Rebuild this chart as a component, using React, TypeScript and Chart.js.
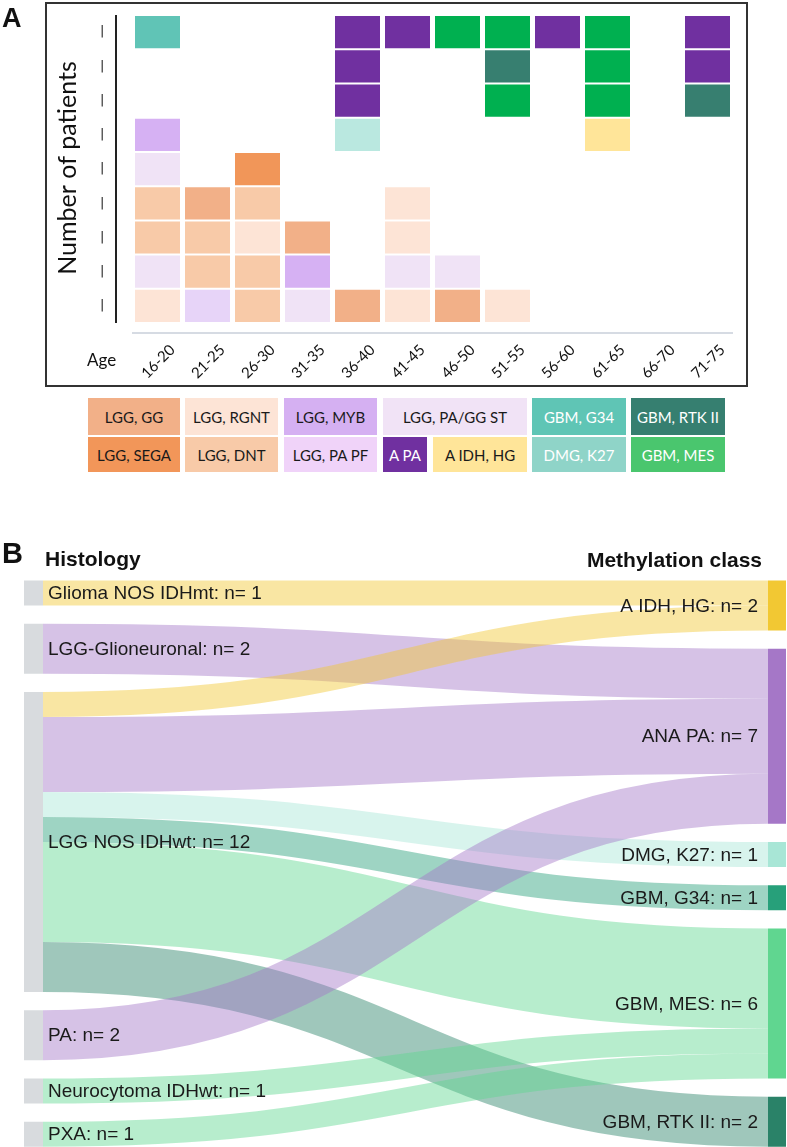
import React, { useEffect, useRef } from 'react';
import { Chart, registerables } from 'chart.js';

Chart.register(...registerables);

// ---------------- Panel A data ----------------
const ageGroups = ['16-20', '21-25', '26-30', '31-35', '36-40', '41-45', '46-50', '51-55', '56-60', '61-65', '66-70', '71-75'];
const rowLevels = 9;

// Each age column lists its cells from bottom to top (null = empty slot)
const age16_20 = ['LGG, RGNT', 'LGG, PA/GG ST', 'LGG, DNT', 'LGG, DNT', 'LGG, PA/GG ST', 'LGG, MYB', null, null, 'GBM, G34'];
const age21_25 = ['LGG, PA PF', 'LGG, DNT', 'LGG, DNT', 'LGG, GG'];
const age26_30 = ['LGG, DNT', 'LGG, DNT', 'LGG, RGNT', 'LGG, DNT', 'LGG, SEGA'];
const age31_35 = ['LGG, PA/GG ST', 'LGG, MYB', 'LGG, GG'];
const age36_40 = ['LGG, GG', null, null, null, null, 'DMG, K27', 'A PA', 'A PA', 'A PA'];
const age41_45 = ['LGG, RGNT', 'LGG, PA/GG ST', 'LGG, RGNT', 'LGG, RGNT', null, null, null, null, 'A PA'];
const age46_50 = ['LGG, GG', 'LGG, PA/GG ST', null, null, null, null, null, null, 'GBM, MES'];
const age51_55 = ['LGG, RGNT', null, null, null, null, null, 'GBM, MES', 'GBM, RTK II', 'GBM, MES'];
const age56_60 = [null, null, null, null, null, null, null, null, 'A PA'];
const age61_65 = [null, null, null, null, null, 'A IDH, HG', 'GBM, MES', 'GBM, MES', 'GBM, MES'];
const age66_70: (string | null)[] = [];
const age71_75 = [null, null, null, null, null, null, 'GBM, RTK II', 'A PA', 'A PA'];
const ageStacks: (string | null)[][] = [age16_20, age21_25, age26_30, age31_35, age36_40, age41_45, age46_50, age51_55, age56_60, age61_65, age66_70, age71_75];

const cellColors: Record<string, string> = {
  'LGG, GG': '#f2b088',
  'LGG, SEGA': '#f19659',
  'LGG, RGNT': '#fde4d6',
  'LGG, DNT': '#f8caa8',
  'LGG, MYB': '#d6b1f3',
  'LGG, PA PF': '#e7d4f8',
  'LGG, PA/GG ST': '#f0e3f6',
  'A PA': '#7030a0',
  'A IDH, HG': '#ffe599',
  'GBM, G34': '#60c4b6',
  'DMG, K27': '#bae8e0',
  'GBM, RTK II': '#377f70',
  'GBM, MES': '#00b050',
};

const legendRow1 = ['LGG, GG', 'LGG, RGNT', 'LGG, MYB', 'LGG, PA/GG ST', 'GBM, G34', 'GBM, RTK II'];
const legendRow2 = ['LGG, SEGA', 'LGG, DNT', 'LGG, PA PF', 'A PA', 'A IDH, HG', 'DMG, K27', 'GBM, MES'];
const legendColors: Record<string, string> = {
  'LGG, GG': '#f2b088', 'LGG, RGNT': '#fde4d6', 'LGG, MYB': '#d5b0f2', 'LGG, PA/GG ST': '#f1e3f6',
  'GBM, G34': '#5fc5b5', 'GBM, RTK II': '#367f70', 'LGG, SEGA': '#f29659', 'LGG, DNT': '#f8caa8',
  'LGG, PA PF': '#f0d3f9', 'A PA': '#7030a0', 'A IDH, HG': '#ffe599', 'DMG, K27': '#8fd4c8', 'GBM, MES': '#4ac66e',
};
const legendWhiteText = ['GBM, G34', 'GBM, RTK II', 'A PA', 'DMG, K27', 'GBM, MES'];

// layout of legend boxes (x, width) per row
const legendLayout1 = [[88, 92], [185, 93], [284, 93], [383, 144], [532, 94], [631, 94]];
const legendLayout2 = [[88, 92], [185, 93], [284, 93], [383, 44], [433, 94], [532, 94], [631, 94]];

// ---------------- Panel B data ----------------
const histologyNodes = ['Glioma NOS IDHmt', 'LGG-Glioneuronal', 'LGG NOS IDHwt', 'PA', 'Neurocytoma IDHwt', 'PXA'];
const methylationNodes = ['A IDH, HG', 'ANA PA', 'DMG, K27', 'GBM, G34', 'GBM, MES', 'GBM, RTK II'];
const methylationColors = ['#f2c833', '#a577c7', '#a8e6d6', '#27a07a', '#60d690', '#2a8268'];
const flowFrom = [0, 1, 2, 2, 2, 2, 2, 2, 3, 4, 5];
const flowTo = [0, 1, 0, 1, 2, 3, 4, 5, 1, 4, 4];
const flowCount = [1, 2, 1, 3, 1, 1, 4, 2, 2, 1, 1];
const nodeGapUnits = 0.73;

function hexToRgba(hex: string, a: number) {
  const n = parseInt(hex.slice(1), 16);
  return `rgba(${(n >> 16) & 255},${(n >> 8) & 255},${n & 255},${a})`;
}

const panelAPlugin = {
  id: 'panelADecor',
  afterDraw(chart: any) {
    const { ctx, chartArea, scales } = chart;
    const y = scales.y;
    ctx.save();
    ctx.strokeStyle = '#333';
    ctx.lineWidth = 2;
    ctx.strokeRect(46, 3, 701, 383);
    ctx.fillStyle = '#111';
    ctx.font = 'bold 27px "Liberation Sans", Arial, sans-serif';
    ctx.textBaseline = 'alphabetic';
    ctx.textAlign = 'left';
    ctx.fillText('A', 2, 27);
    const ax = chartArea.left - 16.5;
    ctx.strokeStyle = '#222';
    ctx.lineWidth = 2;
    ctx.beginPath();
    ctx.moveTo(ax, y.getPixelForValue(rowLevels));
    ctx.lineTo(ax, y.getPixelForValue(0));
    ctx.stroke();
    ctx.save();
    ctx.translate(68, (y.getPixelForValue(rowLevels) + y.getPixelForValue(0)) / 2 - 1);
    ctx.rotate(-Math.PI / 2);
    ctx.font = '25px Lato, "Open Sans", sans-serif';
    ctx.fillStyle = '#111';
    ctx.textAlign = 'center';
    ctx.textBaseline = 'middle';
    ctx.fillText('Number of patients', 0, 0);
    ctx.restore();
    ctx.font = '17px Lato, "Open Sans", sans-serif';
    ctx.fillStyle = '#111';
    ctx.textAlign = 'left';
    ctx.textBaseline = 'middle';
    ctx.fillText('Age', 87, 361);
    ctx.restore();
  },
};

const sankeyPlugin = {
  id: 'sankeyDraw',
  afterDatasetsDraw(chart: any) {
    const { ctx, scales } = chart;
    const xs = scales.x;
    const ys = scales.y;
    const srcTotals = histologyNodes.map((_, i) => flowCount.reduce((s, v, k) => s + (flowFrom[k] === i ? v : 0), 0));
    const tgtTotals = methylationNodes.map((_, i) => flowCount.reduce((s, v, k) => s + (flowTo[k] === i ? v : 0), 0));
    const srcTop: number[] = [];
    const tgtTop: number[] = [];
    let acc = 0;
    srcTotals.forEach((v) => { srcTop.push(acc); acc += v + nodeGapUnits; });
    acc = 0;
    tgtTotals.forEach((v) => { tgtTop.push(acc); acc += v + nodeGapUnits; });

    const leftX0 = xs.getPixelForValue(0);
    const leftX1 = leftX0 + 19;
    const rightX1 = xs.getPixelForValue(1);
    const rightX0 = rightX1 - 18;

    const idx = flowCount.map((_, k) => k);
    const srcOff: number[] = new Array(flowCount.length);
    const tgtOff: number[] = new Array(flowCount.length);
    histologyNodes.forEach((_, i) => {
      let o = srcTop[i];
      idx.filter((k) => flowFrom[k] === i).sort((a, b) => flowTo[a] - flowTo[b]).forEach((k) => { srcOff[k] = o; o += flowCount[k]; });
    });
    methylationNodes.forEach((_, i) => {
      let o = tgtTop[i];
      idx.filter((k) => flowTo[k] === i).sort((a, b) => flowFrom[a] - flowFrom[b]).forEach((k) => { tgtOff[k] = o; o += flowCount[k]; });
    });

    ctx.save();
    const xm = (leftX1 + rightX0) / 2;
    idx.forEach((k) => {
      const sy = ys.getPixelForValue(srcOff[k] + flowCount[k] / 2);
      const ty = ys.getPixelForValue(tgtOff[k] + flowCount[k] / 2);
      const w = Math.abs(ys.getPixelForValue(flowCount[k]) - ys.getPixelForValue(0));
      ctx.beginPath();
      ctx.moveTo(leftX1, sy);
      ctx.bezierCurveTo(xm, sy, xm, ty, rightX0, ty);
      ctx.lineWidth = w;
      ctx.lineCap = 'butt';
      ctx.strokeStyle = hexToRgba(methylationColors[flowTo[k]], 0.45);
      ctx.stroke();
    });

    histologyNodes.forEach((_, i) => {
      const t = ys.getPixelForValue(srcTop[i]);
      const b = ys.getPixelForValue(srcTop[i] + srcTotals[i]);
      ctx.fillStyle = '#d8dbde';
      ctx.fillRect(leftX0, t, leftX1 - leftX0, b - t);
    });
    methylationNodes.forEach((_, i) => {
      const t = ys.getPixelForValue(tgtTop[i]);
      const b = ys.getPixelForValue(tgtTop[i] + tgtTotals[i]);
      ctx.fillStyle = methylationColors[i];
      ctx.fillRect(rightX0, t, rightX1 - rightX0, b - t);
    });

    ctx.font = '19px "Liberation Sans", Arial, sans-serif';
    ctx.fillStyle = '#1a1a1a';
    ctx.textBaseline = 'middle';
    ctx.textAlign = 'left';
    histologyNodes.forEach((n, i) => {
      const c = ys.getPixelForValue(srcTop[i] + srcTotals[i] / 2);
      ctx.fillText(`${n}: n= ${srcTotals[i]}`, leftX1 + 5, c + 1);
    });
    ctx.textAlign = 'right';
    methylationNodes.forEach((n, i) => {
      const c = ys.getPixelForValue(tgtTop[i] + tgtTotals[i] / 2);
      ctx.fillText(`${n}: n= ${tgtTotals[i]}`, rightX0 - 10, c + 1);
    });

    ctx.fillStyle = '#111';
    ctx.textBaseline = 'alphabetic';
    ctx.textAlign = 'left';
    ctx.font = 'bold 29px "Liberation Sans", Arial, sans-serif';
    ctx.fillText('B', 2, 33);
    ctx.font = 'bold 21px "Liberation Sans", Arial, sans-serif';
    ctx.fillText('Histology', 45, 36);
    ctx.textAlign = 'right';
    ctx.fillText('Methylation class', 762, 37);
    ctx.restore();
  },
};

export default function App() {
  const aRef = useRef<HTMLCanvasElement>(null);
  const bRef = useRef<HTMLCanvasElement>(null);

  useEffect(() => {
    const rowTicks = Array.from({ length: rowLevels }, (_, i) => i + 0.5);
    const datasets = Array.from({ length: rowLevels }, (_, level) => ({
      label: `row ${level + 1}`,
      data: ageStacks.map((s) => (s[level] ? [level, level + 1] : null)),
      backgroundColor: ageStacks.map((s) => (s[level] ? cellColors[s[level] as string] : 'rgba(0,0,0,0)')),
      borderColor: '#ffffff',
      borderWidth: 1,
      borderSkipped: false,
      grouped: false,
      barPercentage: 0.94,
      categoryPercentage: 1,
    }));

    const chartA = new Chart(aRef.current as HTMLCanvasElement, {
      type: 'bar',
      data: { labels: ageGroups, datasets: datasets as any },
      plugins: [panelAPlugin],
      options: {
        responsive: false,
        animation: false,
        layout: { padding: { left: 100, right: 54.5, top: 15, bottom: 7 } },
        plugins: { legend: { display: false }, tooltip: { enabled: false } },
        scales: {
          x: {
            grid: { display: false, drawTicks: false },
            border: { display: true, color: '#d6dbe3', width: 2 },
            ticks: {
              autoSkip: false,
              maxRotation: 45,
              minRotation: 45,
              labelOffset: 15,
              padding: 8,
              color: '#111',
              font: { family: 'Lato, "Open Sans", sans-serif', size: 15 },
            },
            afterFit: (s: any) => { s.height = 50; },
          },
          y: {
            min: -0.29,
            max: rowLevels,
            grid: { display: false, drawTicks: false },
            border: { display: false },
            afterBuildTicks: (s: any) => { s.ticks = rowTicks.map((v) => ({ value: v })); },
            ticks: {
              callback: () => '|',
              color: '#222',
              padding: 0,
              crossAlign: 'far',
              font: { family: '"DejaVu Sans", sans-serif', size: 13 },
            },
            afterFit: (s: any) => { s.width = 32.5; },
          },
        },
      } as any,
    });

    const chartB = new Chart(bRef.current as HTMLCanvasElement, {
      type: 'scatter',
      data: { datasets: [{ data: [] }] },
      plugins: [sankeyPlugin],
      options: {
        responsive: false,
        animation: false,
        layout: { padding: { left: 24, right: 1, top: 50.5, bottom: 0.25 } },
        plugins: { legend: { display: false }, tooltip: { enabled: false } },
        scales: {
          x: { type: 'linear', min: 0, max: 1, display: false },
          y: {
            type: 'linear',
            min: 0,
            max: flowCount.reduce((a, b) => a + b, 0) + (histologyNodes.length - 1) * nodeGapUnits,
            reverse: true,
            display: false,
          },
        },
      } as any,
    });

    return () => {
      chartA.destroy();
      chartB.destroy();
    };
  }, []);

  const renderLegendRow = (labels: string[], layout: number[][], top: number, height: number) =>
    labels.map((lab, i) => (
      <div
        key={lab}
        style={{
          position: 'absolute',
          left: layout[i][0],
          top,
          width: layout[i][1],
          height,
          background: legendColors[lab],
          color: legendWhiteText.includes(lab) ? '#ffffff' : '#1a1a1a',
          display: 'flex',
          alignItems: 'center',
          justifyContent: 'center',
          fontFamily: 'Lato, "Open Sans", sans-serif',
          fontSize: 15,
          whiteSpace: 'nowrap',
        }}
      >
        {lab}
      </div>
    ));

  return (
    <div style={{ position: 'absolute', left: 0, top: 0, width: 787, height: 1147, background: '#ffffff', overflow: 'hidden' }}>
      <canvas ref={aRef} width={787} height={390} style={{ position: 'absolute', left: 0, top: 0, width: 787, height: 390 }} />
      {renderLegendRow(legendRow1, legendLayout1, 398, 37)}
      {renderLegendRow(legendRow2, legendLayout2, 437, 35)}
      <canvas ref={bRef} width={787} height={617} style={{ position: 'absolute', left: 0, top: 530, width: 787, height: 617 }} />
    </div>
  );
}
